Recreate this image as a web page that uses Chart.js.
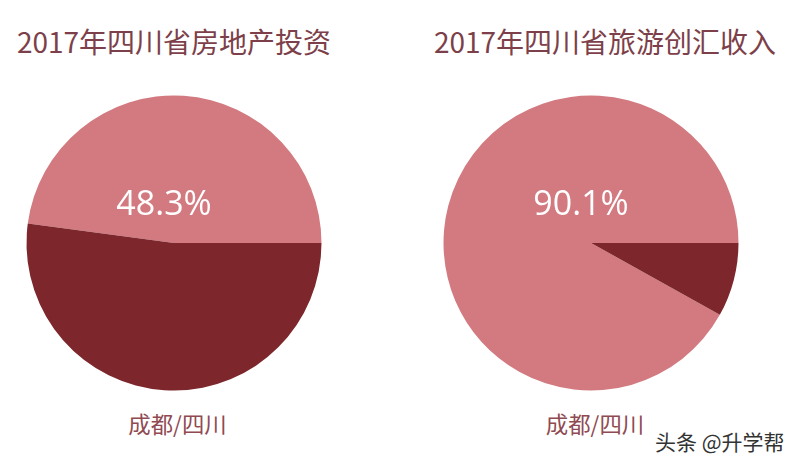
<!DOCTYPE html>
<html>
<head>
<meta charset="utf-8">
<script src="https://cdn.jsdelivr.net/npm/chart.js@4"></script>
<style>
  html, body { margin: 0; padding: 0; background: #fff; }
  body { width: 796px; height: 466px; position: relative; overflow: hidden; font-family: "Noto Sans CJK SC", sans-serif; }
  .box { position: absolute; top: 83px; width: 320px; height: 320px; }
  .txt { position: absolute; white-space: nowrap; transform: translateX(-50%); }
  .title { top: 19px; font-size: 28px; color: #7d3f49; line-height: 44px; }
  .pct { top: 178px; font-size: 34px; color: #fff; line-height: 48px; font-family: "Open Sans", sans-serif; }
  .cap { top: 407px; font-size: 22.4px; color: #8f4a52; line-height: 32px; }
  .mark { position: absolute; left: 655px; top: 427px; font-size: 21px; color: #333; line-height: 28px; white-space: nowrap; }
</style>
</head>
<body>
<div class="box" style="left:14px"><canvas id="pie-left"></canvas></div>
<div class="box" style="left:431px"><canvas id="pie-right"></canvas></div>
<div class="txt title" style="left:174px">2017年四川省房地产投资</div>
<div class="txt title" style="left:605px">2017年四川省旅游创汇收入</div>
<div class="txt pct" style="left:164px">48.3%</div>
<div class="txt pct" style="left:581px">90.1%</div>
<div class="txt cap" style="left:177.5px">成都/四川</div>
<div class="txt cap" style="left:595px">成都/四川</div>
<div class="mark">头条 @升学帮</div>
<script>
const sliceLabels = ["成都", "其他"];
// shares as drawn in the picture, the slices don't quite follow the printed labels
const leftValues = [47.9, 52.1];
const rightValues = [91.9, 8.1];
const darkRed = "#7d262b";
const pink = "#d37a80";

function drawPie(id, values, rotation) {
  new Chart(document.getElementById(id), {
    type: "pie",
    data: {
      labels: sliceLabels,
      datasets: [{ data: values, backgroundColor: [pink, darkRed], borderWidth: 0 }]
    },
    options: {
      responsive: false,
      animation: false,
      rotation: rotation,
      layout: { padding: 12.5 },
      plugins: { legend: { display: false }, tooltip: { enabled: false } }
    }
  });
}

document.querySelectorAll("canvas").forEach(c => { c.width = 320; c.height = 320; });
// pink slice always ends at 3 o'clock on the left pie, dark one starts there on both
drawPie("pie-left", leftValues, 90 - leftValues[0] * 3.6);
drawPie("pie-right", rightValues, 90 - rightValues[0] * 3.6);
</script>
</body>
</html>
